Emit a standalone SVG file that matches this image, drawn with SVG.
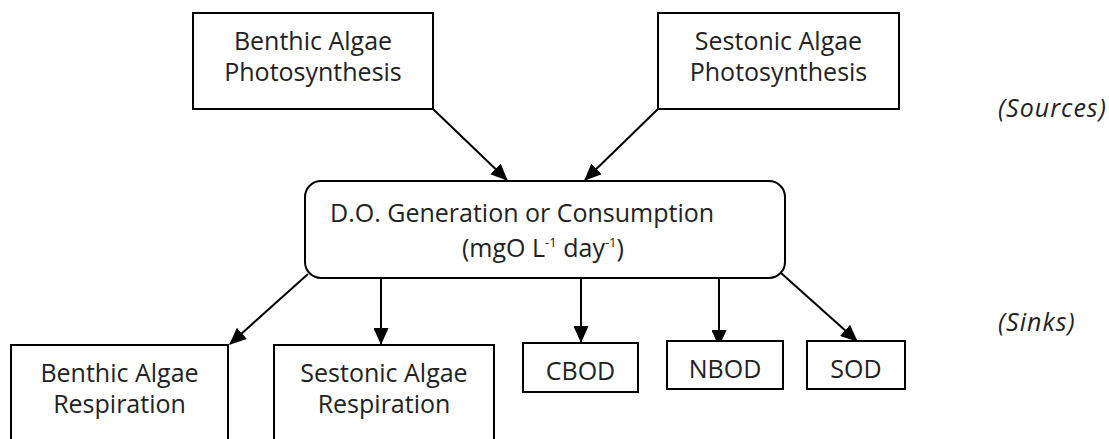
<svg xmlns="http://www.w3.org/2000/svg" width="1109" height="439" viewBox="0 0 1109 439">
<defs>
<marker id="arr" viewBox="0 0 17 15" refX="16" refY="7.5" markerWidth="17" markerHeight="15" markerUnits="userSpaceOnUse" orient="auto">
<path d="M0,0 L17,7.5 L0,15 Z" fill="#000"/>
</marker>
</defs>
<style>
.box{fill:#fff;stroke:#000;stroke-width:2}
.t{font-family:"Open Sans","Liberation Sans",sans-serif;font-size:25px;fill:#222;text-anchor:middle}
.l{text-anchor:start}
.i{font-family:"Open Sans","Liberation Sans",sans-serif;font-size:25px;fill:#222;font-style:italic;letter-spacing:1px}
.c{stroke:#000;stroke-width:2;fill:none;marker-end:url(#arr)}
.sup{font-size:13px}
</style>
<rect width="1109" height="439" fill="#fff"/>
<g id="connectors">
<line class="c" x1="433" y1="109" x2="507" y2="180"/>
<line class="c" x1="658" y1="109" x2="585" y2="180"/>
<line class="c" x1="308" y1="274" x2="230" y2="344"/>
<line class="c" x1="381" y1="278" x2="381" y2="344"/>
<line class="c" x1="581" y1="278" x2="581" y2="342"/>
<line class="c" x1="719" y1="278" x2="719" y2="346"/>
<line class="c" x1="781" y1="273" x2="857" y2="341"/>
</g>
<g id="benthic-photo">
<rect class="box" x="193" y="13" width="240" height="96"/>
<text class="t" x="313" y="50">Benthic Algae</text>
<text class="t" x="313" y="81">Photosynthesis</text>
</g>
<g id="sestonic-photo">
<rect class="box" x="658" y="13" width="241" height="96"/>
<text class="t" x="778.5" y="50">Sestonic Algae</text>
<text class="t" x="778.5" y="81">Photosynthesis</text>
</g>
<g id="sources">
<text class="i" x="998" y="117">(Sources)</text>
</g>
<g id="do">
<rect class="box" x="305" y="181" width="480" height="97" rx="16" ry="16"/>
<text class="t l" x="330" y="222">D.O. Generation or Consumption</text>
<text class="t l" x="462" y="257">(mgO L<tspan class="sup" dy="-10">-1</tspan><tspan dy="10"> day</tspan><tspan class="sup" dy="-10">-1</tspan><tspan dy="10">)</tspan></text>
</g>
<g id="benthic-resp">
<rect class="box" x="11" y="345" width="217" height="110"/>
<text class="t" x="119.5" y="382">Benthic Algae</text>
<text class="t" x="119.5" y="413">Respiration</text>
</g>
<g id="sestonic-resp">
<rect class="box" x="274" y="345" width="220" height="110"/>
<text class="t" x="384" y="382">Sestonic Algae</text>
<text class="t" x="384" y="413">Respiration</text>
</g>
<g id="cbod">
<rect class="box" x="523" y="343" width="115" height="49"/>
<text class="t" x="580.5" y="380">CBOD</text>
</g>
<g id="nbod">
<rect class="box" x="667" y="341" width="116" height="48"/>
<text class="t" x="725" y="378">NBOD</text>
</g>
<g id="sod">
<rect class="box" x="807" y="341" width="98" height="48"/>
<text class="t" x="856" y="378">SOD</text>
</g>
<g id="sinks">
<text class="i" x="998" y="331">(Sinks)</text>
</g>
</svg>
